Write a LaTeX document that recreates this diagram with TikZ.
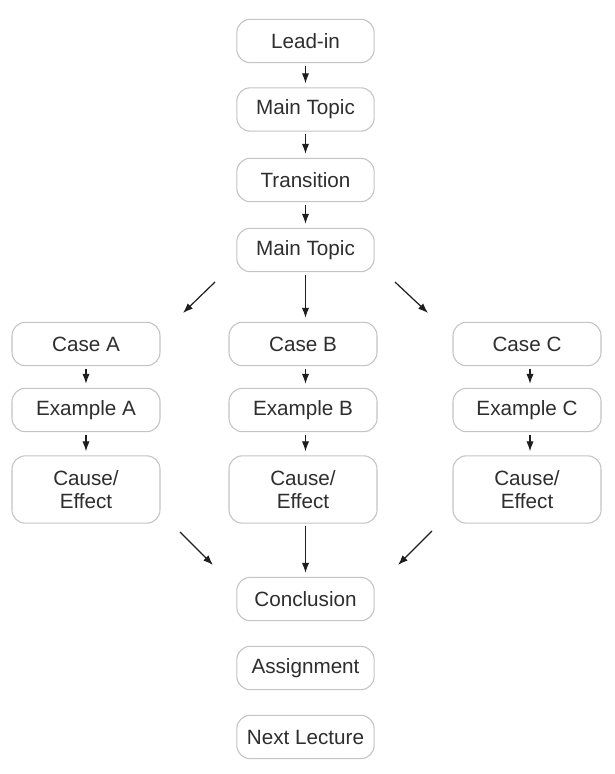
\documentclass[tikz,border=0pt]{standalone}
\usepackage{fontspec}
\setmainfont{Liberation Sans}
\usetikzlibrary{arrows.meta}
\definecolor{boxgray}{HTML}{C4C4C4}
\definecolor{textgray}{HTML}{2E2E2E}
\definecolor{arrowgray}{HTML}{1E1E1E}
\begin{document}
\begin{tikzpicture}[x=0.75pt,y=-0.75pt,
  box/.style={draw=boxgray, line width=0.8pt, rounded corners=10pt, text=textgray,
    font=\fontsize{15.5}{17.5}\selectfont, align=center, inner sep=0pt,
    minimum height=32.5pt},
  narrow/.style={box, minimum width=103pt},
  wide/.style={box, minimum width=111pt},
  tall/.style={wide, minimum height=50.5pt},
  arr/.style={draw=arrowgray, line width=0.9pt, -{Latex[length=7.5pt,width=5.5pt]}},
  varr/.style={arr, shorten <=2pt, shorten >=3pt}
]
\fill[white] (0,0) rectangle (614,774);
\useasboundingbox (0,0) rectangle (614,774);

\node[narrow] (lead) at (305.5,41) {Lead-in};
\node[narrow] (mt1) at (305.5,109.5) {Main Topic};
\node[narrow] (trans) at (305.5,180) {Transition};
\node[narrow] (mt2) at (305.5,250) {Main Topic};

\node[wide] (caseA) at (86,344) {Case A};
\node[wide] (exA) at (86,410) {Example A};
\node[tall] (ceA) at (86,489.5) {Cause/\\Effect};

\node[wide] (caseB) at (303,344) {Case B};
\node[wide] (exB) at (303,410) {Example B};
\node[tall] (ceB) at (303,489.5) {Cause/\\Effect};

\node[wide] (caseC) at (527,344) {Case C};
\node[wide] (exC) at (527,410) {Example C};
\node[tall] (ceC) at (527,489.5) {Cause/\\Effect};

\node[narrow] (concl) at (305.5,599) {Conclusion};
\node[narrow] (assign) at (305.5,668) {Assignment};
\node[narrow] (next) at (305.5,737) {Next Lecture};

% vertical arrows
\draw[varr] (lead.south) -- (mt1.north);
\draw[varr] (mt1.south) -- (trans.north);
\draw[varr] (trans.south) -- (mt2.north);
\draw[varr] (mt2.south) -- (mt2.south |- caseB.north);
\draw[varr] (caseA.south) -- (exA.north);
\draw[varr] (exA.south) -- (ceA.north);
\draw[varr] (caseB.south -| mt2.south) -- (exB.north -| mt2.south);
\draw[varr] (exB.south -| mt2.south) -- (ceB.north -| mt2.south);
\draw[varr] (caseC.south -| 530,0) -- (exC.north -| 530,0);
\draw[varr] (exC.south -| 530,0) -- (ceC.north -| 530,0);
\draw[varr] (ceB.south -| mt2.south) -- (concl.north);

% diagonal arrows
\coordinate (dl1) at (215,282);
\coordinate (dl2) at (183,313);
\coordinate (dr1) at (395,282);
\coordinate (dr2) at (428,313);
\coordinate (ul1) at (180,532);
\coordinate (ul2) at (213,565);
\coordinate (ur1) at (432,531);
\coordinate (ur2) at (398,565);
\draw[arr] (dl1) -- (dl2);
\draw[arr] (dr1) -- (dr2);
\draw[arr] (ul1) -- (ul2);
\draw[arr] (ur1) -- (ur2);
\end{tikzpicture}
\end{document}
